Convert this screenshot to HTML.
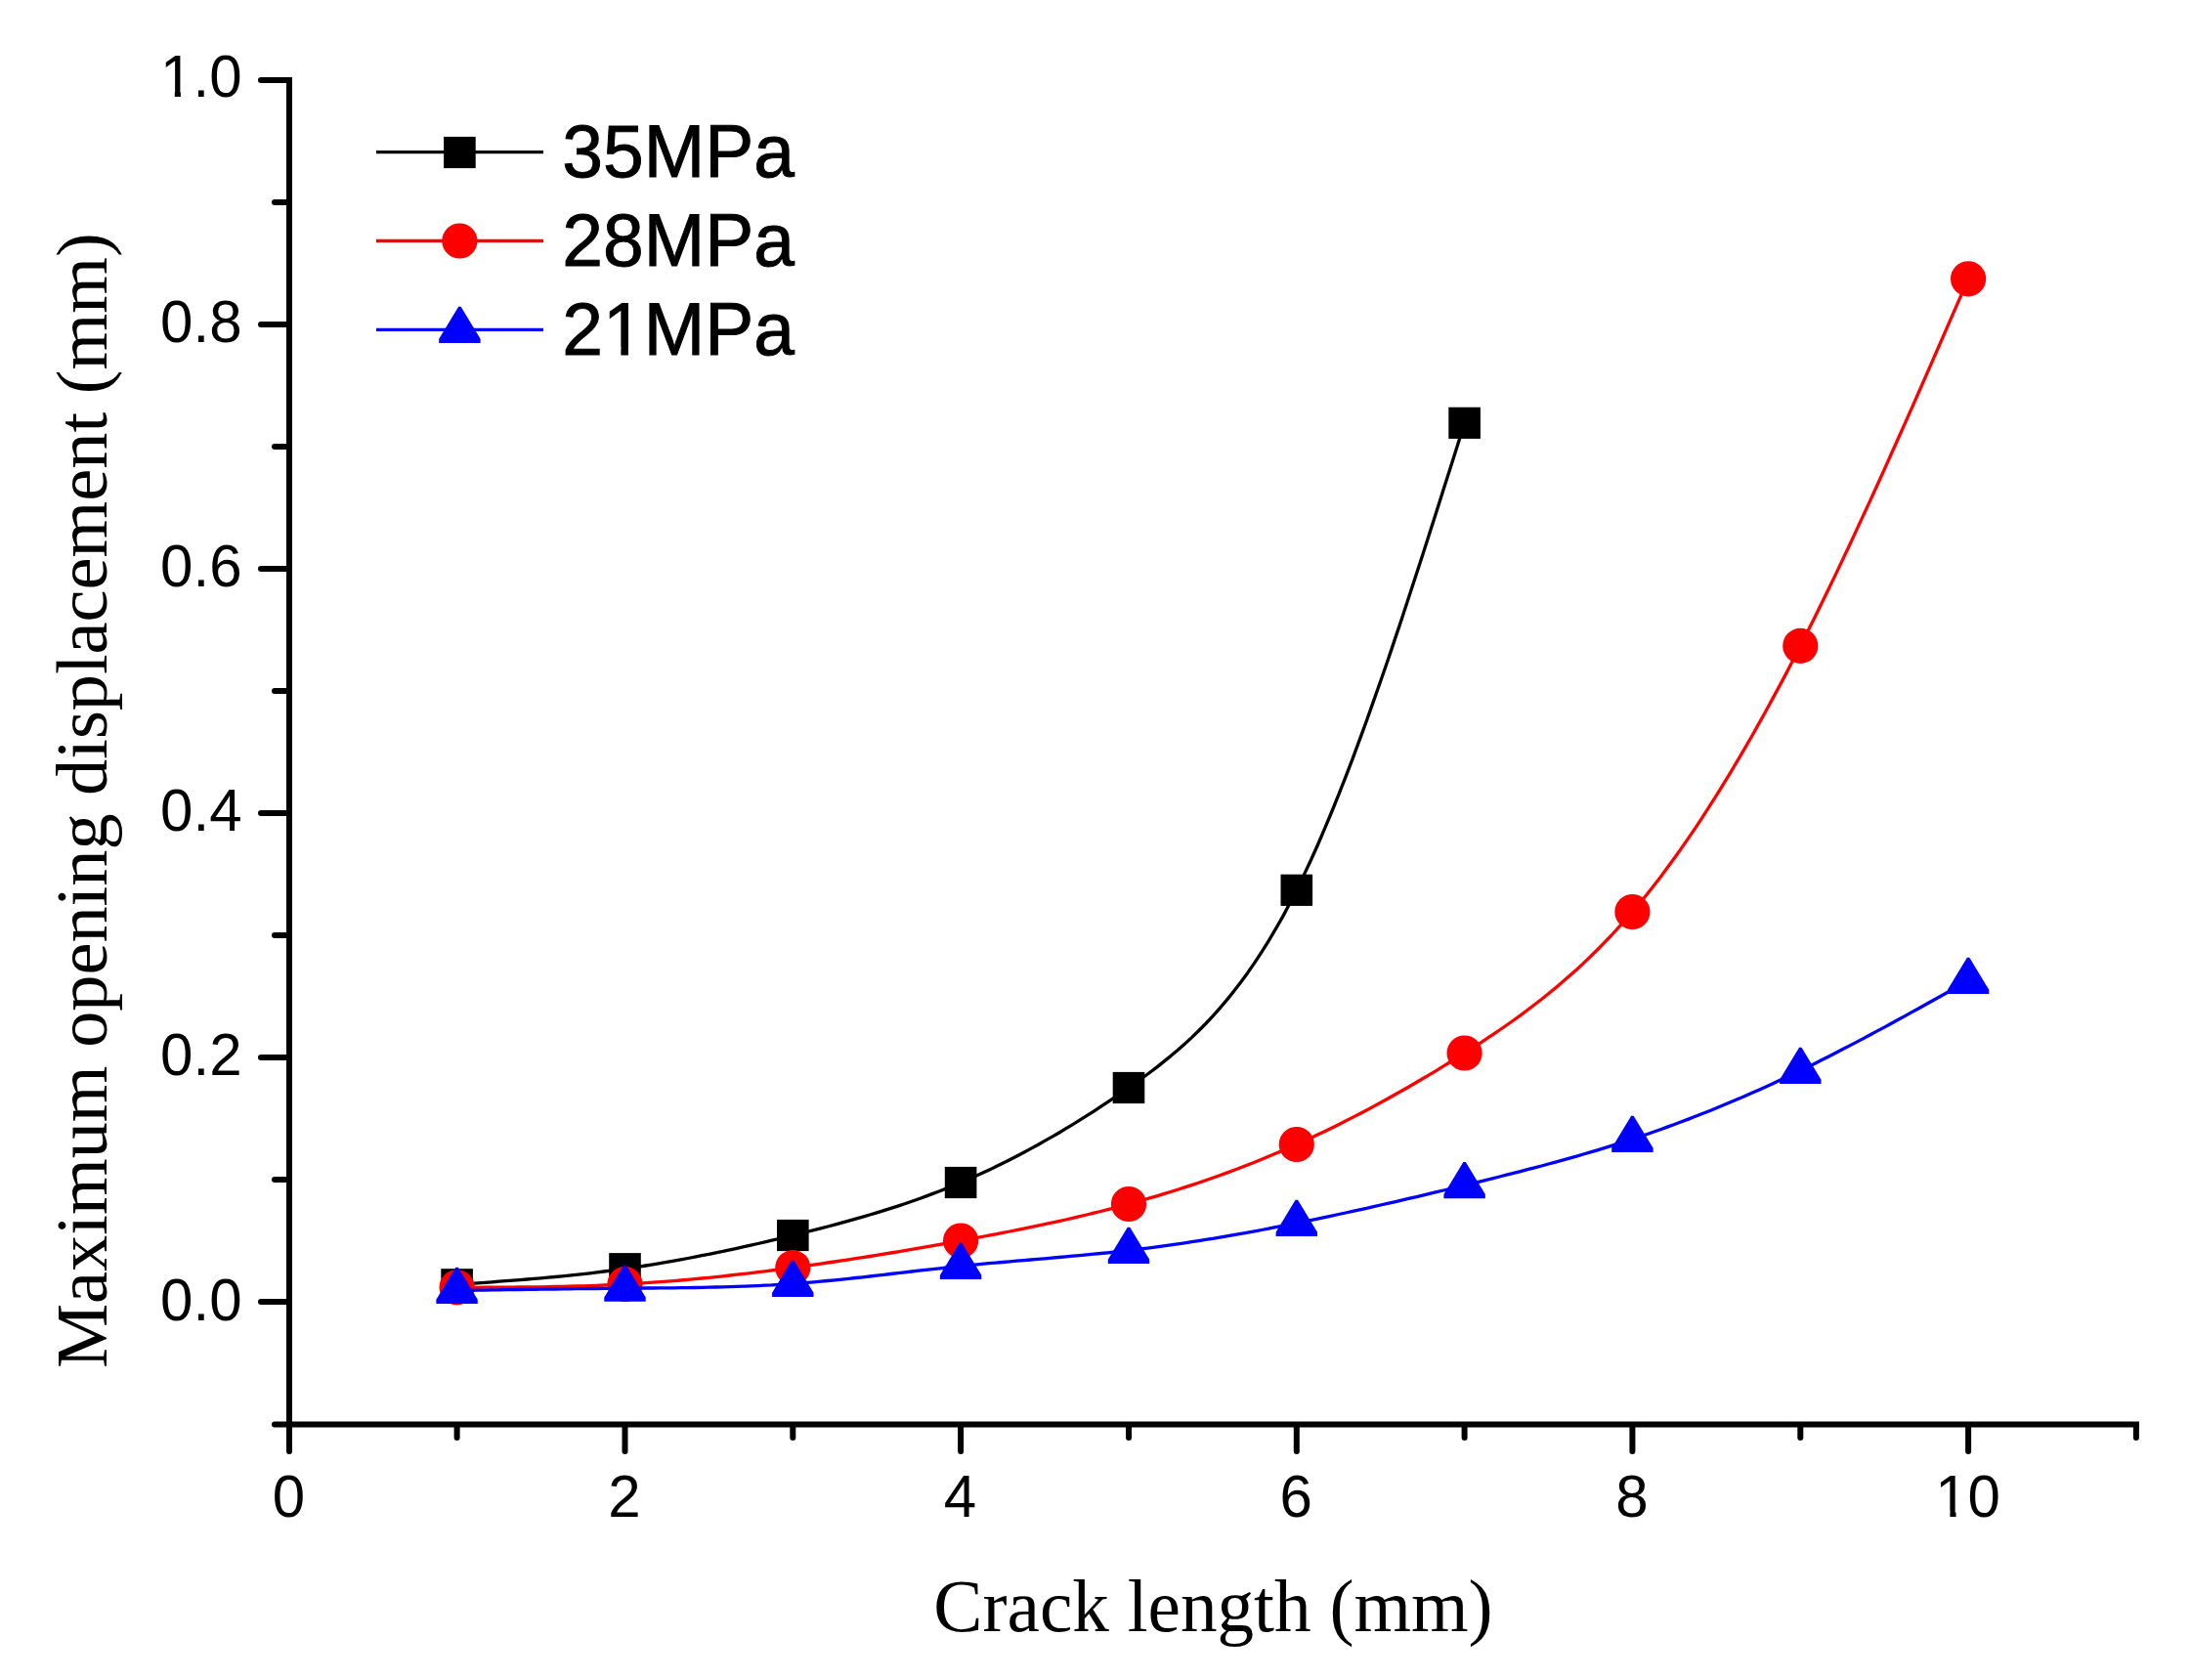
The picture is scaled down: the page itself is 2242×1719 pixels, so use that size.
<!DOCTYPE html><html><head><meta charset="utf-8"><title>Crack length vs maximum opening displacement</title>
<style>html,body{margin:0;padding:0;background:#fff}svg{display:block}text{fill:#000}</style></head><body>
<svg width="2242" height="1719" viewBox="0 0 2242 1719">
<rect width="2242" height="1719" fill="#fff"/>
<g stroke="#000" stroke-width="6" stroke-linecap="butt" fill="none">
<path d="M296.0 79 V1460.5"/>
<path d="M293.0 1457.5 H2189"/>
<path d="M281 1457.5 H295.0" stroke-linecap="round"/>
<path d="M267 1332.0 H295.0" stroke-linecap="round"/>
<path d="M281 1207.0 H295.0" stroke-linecap="round"/>
<path d="M267 1082.0 H295.0" stroke-linecap="round"/>
<path d="M281 957.0 H295.0" stroke-linecap="round"/>
<path d="M267 832.0 H295.0" stroke-linecap="round"/>
<path d="M281 707.0 H295.0" stroke-linecap="round"/>
<path d="M267 582.0 H295.0" stroke-linecap="round"/>
<path d="M281 457.0 H295.0" stroke-linecap="round"/>
<path d="M267 332.0 H295.0" stroke-linecap="round"/>
<path d="M281 207.0 H295.0" stroke-linecap="round"/>
<path d="M267 82.0 H295.0" stroke-linecap="round"/>
<path d="M296.0 1458.5 V1485" stroke-linecap="round"/>
<path d="M467.6 1458.5 V1471" stroke-linecap="round"/>
<path d="M639.5 1458.5 V1485" stroke-linecap="round"/>
<path d="M811.3 1458.5 V1471" stroke-linecap="round"/>
<path d="M983.1 1458.5 V1485" stroke-linecap="round"/>
<path d="M1155.0 1458.5 V1471" stroke-linecap="round"/>
<path d="M1326.8 1458.5 V1485" stroke-linecap="round"/>
<path d="M1498.6 1458.5 V1471" stroke-linecap="round"/>
<path d="M1670.4 1458.5 V1485" stroke-linecap="round"/>
<path d="M1842.3 1458.5 V1471" stroke-linecap="round"/>
<path d="M2014.1 1458.5 V1485" stroke-linecap="round"/>
<path d="M2185.9 1458.5 V1471" stroke-linecap="round"/>
</g>
<g font-family='"Liberation Sans", sans-serif' font-size="60">
<text transform="translate(247.5 1350.7) scale(1 1.026)" text-anchor="end">0.0</text>
<text transform="translate(247.5 1100.4) scale(1 1.026)" text-anchor="end">0.2</text>
<text transform="translate(247.5 850.2) scale(1 1.026)" text-anchor="end">0.4</text>
<text transform="translate(247.5 599.9) scale(1 1.026)" text-anchor="end">0.6</text>
<text transform="translate(247.5 349.7) scale(1 1.026)" text-anchor="end">0.8</text>
<text transform="translate(247.5 99.4) scale(1 1.026)" text-anchor="end">1.0</text>
<text transform="translate(295.4 1551.8) scale(1 1.026)" text-anchor="middle">0</text>
<text transform="translate(638.9 1551.8) scale(1 1.026)" text-anchor="middle">2</text>
<text transform="translate(982.5 1551.8) scale(1 1.026)" text-anchor="middle">4</text>
<text transform="translate(1326.2 1551.8) scale(1 1.026)" text-anchor="middle">6</text>
<text transform="translate(1669.8 1551.8) scale(1 1.026)" text-anchor="middle">8</text>
<text transform="translate(2013.5 1551.8) scale(1 1.026)" text-anchor="middle">10</text>
</g>
<rect x="167.2" y="93.4" width="11.6" height="7.6" fill="#fff"/><rect x="184.9" y="93.4" width="11.1" height="7.6" fill="#fff"/>
<rect x="1983.8" y="1545.7" width="11.6" height="7.6" fill="#fff"/><rect x="2001.5" y="1545.7" width="11.1" height="7.6" fill="#fff"/>
<text font-family='"Liberation Serif", serif' font-size="75.2" transform="translate(1241.4 1669)" text-anchor="middle">Crack length (mm)</text>
<text font-family='"Liberation Serif", serif' font-size="74.3" transform="translate(108.5 819.1) rotate(-90)" text-anchor="middle">Maximum opening displacement (mm)</text>
<path d="M467.6 1314.3 L474.8 1313.8 L481.9 1313.3 L489.1 1312.8 L496.3 1312.3 L503.4 1311.8 L510.6 1311.2 L517.7 1310.7 L524.9 1310.1 L532.1 1309.6 L539.2 1309.0 L546.4 1308.4 L553.5 1307.8 L560.7 1307.1 L567.9 1306.5 L575.0 1305.8 L582.2 1305.1 L589.3 1304.3 L596.5 1303.6 L603.7 1302.8 L610.8 1301.9 L618.0 1301.0 L625.1 1300.1 L632.3 1299.2 L639.5 1298.2 L646.6 1297.2 L653.8 1296.1 L660.9 1295.0 L668.1 1293.8 L675.3 1292.6 L682.4 1291.4 L689.6 1290.1 L696.7 1288.8 L703.9 1287.5 L711.1 1286.1 L718.2 1284.7 L725.4 1283.3 L732.5 1281.8 L739.7 1280.4 L746.9 1278.8 L754.0 1277.3 L761.2 1275.7 L768.3 1274.1 L775.5 1272.5 L782.7 1270.8 L789.8 1269.1 L797.0 1267.5 L804.1 1265.7 L811.3 1264.0 L818.4 1262.2 L825.6 1260.5 L832.8 1258.7 L839.9 1256.8 L847.1 1255.0 L854.2 1253.1 L861.4 1251.1 L868.6 1249.2 L875.7 1247.2 L882.9 1245.1 L890.0 1243.0 L897.2 1240.8 L904.4 1238.6 L911.5 1236.4 L918.7 1234.1 L925.8 1231.7 L933.0 1229.2 L940.2 1226.7 L947.3 1224.1 L954.5 1221.4 L961.6 1218.7 L968.8 1215.9 L976.0 1213.0 L983.1 1210.0 L990.3 1206.9 L997.4 1203.8 L1004.6 1200.5 L1011.8 1197.2 L1018.9 1193.8 L1026.1 1190.3 L1033.2 1186.7 L1040.4 1183.0 L1047.6 1179.2 L1054.7 1175.4 L1061.9 1171.5 L1069.0 1167.4 L1076.2 1163.4 L1083.4 1159.2 L1090.5 1154.9 L1097.7 1150.6 L1104.8 1146.2 L1112.0 1141.7 L1119.2 1137.1 L1126.3 1132.4 L1133.5 1127.7 L1140.6 1122.9 L1147.8 1118.0 L1155.0 1113.0 L1162.1 1107.9 L1169.3 1102.8 L1176.4 1097.5 L1183.6 1092.1 L1190.7 1086.4 L1197.9 1080.6 L1205.1 1074.5 L1212.2 1068.2 L1219.4 1061.6 L1226.5 1054.7 L1233.7 1047.5 L1240.9 1039.8 L1248.0 1031.8 L1255.2 1023.4 L1262.3 1014.6 L1269.5 1005.2 L1276.7 995.4 L1283.8 985.1 L1291.0 974.2 L1298.1 962.8 L1305.3 950.7 L1312.5 938.1 L1319.6 924.8 L1326.8 910.8 L1333.9 896.1 L1341.1 880.8 L1348.3 864.8 L1355.4 848.2 L1362.6 831.0 L1369.7 813.3 L1376.9 795.1 L1384.1 776.3 L1391.2 757.1 L1398.4 737.5 L1405.5 717.4 L1412.7 697.0 L1419.9 676.2 L1427.0 655.1 L1434.2 633.7 L1441.3 612.0 L1448.5 590.1 L1455.7 568.0 L1462.8 545.8 L1470.0 523.3 L1477.1 500.8 L1484.3 478.2 L1491.5 455.5 L1498.6 432.8" fill="none" stroke="#000" stroke-width="3.3" stroke-linejoin="round"/>
<rect x="451.3" y="1298.2" width="32.6" height="32.2" fill="#000"/>
<rect x="623.2" y="1282.1" width="32.6" height="32.2" fill="#000"/>
<rect x="795.0" y="1247.9" width="32.6" height="32.2" fill="#000"/>
<rect x="966.8" y="1193.9" width="32.6" height="32.2" fill="#000"/>
<rect x="1138.7" y="1096.9" width="32.6" height="32.2" fill="#000"/>
<rect x="1310.5" y="894.7" width="32.6" height="32.2" fill="#000"/>
<rect x="1482.3" y="416.7" width="32.6" height="32.2" fill="#000"/>
<path d="M467.6 1317.3 L474.8 1317.3 L481.9 1317.3 L489.1 1317.3 L496.3 1317.2 L503.4 1317.2 L510.6 1317.2 L517.7 1317.1 L524.9 1317.1 L532.1 1317.0 L539.2 1317.0 L546.4 1316.9 L553.5 1316.8 L560.7 1316.7 L567.9 1316.5 L575.0 1316.4 L582.2 1316.2 L589.3 1316.0 L596.5 1315.8 L603.7 1315.6 L610.8 1315.3 L618.0 1315.0 L625.1 1314.7 L632.3 1314.4 L639.5 1314.0 L646.6 1313.6 L653.8 1313.2 L660.9 1312.7 L668.1 1312.2 L675.3 1311.7 L682.4 1311.1 L689.6 1310.6 L696.7 1310.0 L703.9 1309.3 L711.1 1308.7 L718.2 1308.0 L725.4 1307.3 L732.5 1306.6 L739.7 1305.8 L746.9 1305.0 L754.0 1304.2 L761.2 1303.4 L768.3 1302.6 L775.5 1301.7 L782.7 1300.8 L789.8 1299.9 L797.0 1299.0 L804.1 1298.1 L811.3 1297.1 L818.4 1296.1 L825.6 1295.1 L832.8 1294.1 L839.9 1293.1 L847.1 1292.0 L854.2 1291.0 L861.4 1289.9 L868.6 1288.8 L875.7 1287.7 L882.9 1286.6 L890.0 1285.5 L897.2 1284.3 L904.4 1283.1 L911.5 1282.0 L918.7 1280.8 L925.8 1279.6 L933.0 1278.4 L940.2 1277.1 L947.3 1275.9 L954.5 1274.6 L961.6 1273.4 L968.8 1272.1 L976.0 1270.8 L983.1 1269.5 L990.3 1268.2 L997.4 1266.9 L1004.6 1265.5 L1011.8 1264.2 L1018.9 1262.8 L1026.1 1261.4 L1033.2 1260.0 L1040.4 1258.6 L1047.6 1257.2 L1054.7 1255.7 L1061.9 1254.2 L1069.0 1252.7 L1076.2 1251.1 L1083.4 1249.6 L1090.5 1248.0 L1097.7 1246.3 L1104.8 1244.7 L1112.0 1243.0 L1119.2 1241.2 L1126.3 1239.5 L1133.5 1237.7 L1140.6 1235.8 L1147.8 1233.9 L1155.0 1232.0 L1162.1 1230.0 L1169.3 1228.0 L1176.4 1225.9 L1183.6 1223.8 L1190.7 1221.7 L1197.9 1219.5 L1205.1 1217.2 L1212.2 1214.9 L1219.4 1212.6 L1226.5 1210.2 L1233.7 1207.8 L1240.9 1205.3 L1248.0 1202.7 L1255.2 1200.1 L1262.3 1197.5 L1269.5 1194.7 L1276.7 1192.0 L1283.8 1189.2 L1291.0 1186.3 L1298.1 1183.3 L1305.3 1180.3 L1312.5 1177.3 L1319.6 1174.2 L1326.8 1171.0 L1333.9 1167.8 L1341.1 1164.5 L1348.3 1161.1 L1355.4 1157.7 L1362.6 1154.2 L1369.7 1150.7 L1376.9 1147.1 L1384.1 1143.4 L1391.2 1139.7 L1398.4 1136.0 L1405.5 1132.1 L1412.7 1128.3 L1419.9 1124.3 L1427.0 1120.3 L1434.2 1116.3 L1441.3 1112.2 L1448.5 1108.0 L1455.7 1103.8 L1462.8 1099.6 L1470.0 1095.3 L1477.1 1090.9 L1484.3 1086.5 L1491.5 1082.0 L1498.6 1077.5 L1505.8 1072.9 L1512.9 1068.3 L1520.1 1063.6 L1527.2 1058.8 L1534.4 1054.0 L1541.6 1049.0 L1548.7 1044.0 L1555.9 1038.8 L1563.0 1033.5 L1570.2 1028.0 L1577.4 1022.5 L1584.5 1016.7 L1591.7 1010.9 L1598.8 1004.8 L1606.0 998.6 L1613.2 992.2 L1620.3 985.6 L1627.5 978.7 L1634.6 971.7 L1641.8 964.4 L1649.0 957.0 L1656.1 949.2 L1663.3 941.2 L1670.4 933.0 L1677.6 924.5 L1684.8 915.7 L1691.9 906.7 L1699.1 897.4 L1706.2 887.8 L1713.4 878.0 L1720.6 867.9 L1727.7 857.6 L1734.9 847.1 L1742.0 836.3 L1749.2 825.2 L1756.4 813.9 L1763.5 802.4 L1770.7 790.6 L1777.8 778.7 L1785.0 766.4 L1792.2 754.0 L1799.3 741.4 L1806.5 728.5 L1813.6 715.4 L1820.8 702.1 L1828.0 688.6 L1835.1 674.8 L1842.3 660.9 L1849.4 646.8 L1856.6 632.4 L1863.7 617.9 L1870.9 603.2 L1878.1 588.4 L1885.2 573.4 L1892.4 558.2 L1899.5 542.9 L1906.7 527.4 L1913.9 511.9 L1921.0 496.2 L1928.2 480.4 L1935.3 464.5 L1942.5 448.5 L1949.7 432.4 L1956.8 416.3 L1964.0 400.0 L1971.1 383.8 L1978.3 367.4 L1985.5 351.0 L1992.6 334.6 L1999.8 318.2 L2006.9 301.8 L2014.1 285.3" fill="none" stroke="#f00" stroke-width="3.3" stroke-linejoin="round"/>
<circle cx="467.6" cy="1317.3" r="18.1" fill="#f00"/>
<circle cx="639.5" cy="1314.0" r="18.1" fill="#f00"/>
<circle cx="811.3" cy="1297.1" r="18.1" fill="#f00"/>
<circle cx="983.1" cy="1269.5" r="18.1" fill="#f00"/>
<circle cx="1155.0" cy="1232.0" r="18.1" fill="#f00"/>
<circle cx="1326.8" cy="1171.0" r="18.1" fill="#f00"/>
<circle cx="1498.6" cy="1077.5" r="18.1" fill="#f00"/>
<circle cx="1670.4" cy="933.0" r="18.1" fill="#f00"/>
<circle cx="1842.3" cy="660.9" r="18.1" fill="#f00"/>
<circle cx="2014.1" cy="285.3" r="18.1" fill="#f00"/>
<path d="M467.6 1320.5 L474.8 1320.4 L481.9 1320.3 L489.1 1320.2 L496.3 1320.1 L503.4 1319.9 L510.6 1319.8 L517.7 1319.7 L524.9 1319.6 L532.1 1319.5 L539.2 1319.4 L546.4 1319.3 L553.5 1319.2 L560.7 1319.1 L567.9 1319.0 L575.0 1318.9 L582.2 1318.8 L589.3 1318.7 L596.5 1318.6 L603.7 1318.6 L610.8 1318.5 L618.0 1318.4 L625.1 1318.3 L632.3 1318.3 L639.5 1318.2 L646.6 1318.1 L653.8 1318.1 L660.9 1318.0 L668.1 1318.0 L675.3 1317.9 L682.4 1317.8 L689.6 1317.8 L696.7 1317.7 L703.9 1317.6 L711.1 1317.5 L718.2 1317.3 L725.4 1317.2 L732.5 1317.0 L739.7 1316.9 L746.9 1316.7 L754.0 1316.4 L761.2 1316.2 L768.3 1315.9 L775.5 1315.6 L782.7 1315.2 L789.8 1314.9 L797.0 1314.4 L804.1 1314.0 L811.3 1313.5 L818.4 1313.0 L825.6 1312.4 L832.8 1311.8 L839.9 1311.2 L847.1 1310.5 L854.2 1309.8 L861.4 1309.1 L868.6 1308.3 L875.7 1307.5 L882.9 1306.8 L890.0 1306.0 L897.2 1305.2 L904.4 1304.3 L911.5 1303.5 L918.7 1302.7 L925.8 1301.9 L933.0 1301.0 L940.2 1300.2 L947.3 1299.4 L954.5 1298.6 L961.6 1297.8 L968.8 1297.0 L976.0 1296.2 L983.1 1295.5 L990.3 1294.8 L997.4 1294.1 L1004.6 1293.4 L1011.8 1292.7 L1018.9 1292.1 L1026.1 1291.5 L1033.2 1290.8 L1040.4 1290.2 L1047.6 1289.6 L1054.7 1289.0 L1061.9 1288.4 L1069.0 1287.8 L1076.2 1287.1 L1083.4 1286.5 L1090.5 1285.9 L1097.7 1285.2 L1104.8 1284.6 L1112.0 1283.9 L1119.2 1283.2 L1126.3 1282.5 L1133.5 1281.8 L1140.6 1281.0 L1147.8 1280.2 L1155.0 1279.4 L1162.1 1278.6 L1169.3 1277.7 L1176.4 1276.8 L1183.6 1275.8 L1190.7 1274.8 L1197.9 1273.8 L1205.1 1272.8 L1212.2 1271.8 L1219.4 1270.7 L1226.5 1269.6 L1233.7 1268.4 L1240.9 1267.3 L1248.0 1266.1 L1255.2 1264.9 L1262.3 1263.6 L1269.5 1262.4 L1276.7 1261.1 L1283.8 1259.8 L1291.0 1258.5 L1298.1 1257.1 L1305.3 1255.7 L1312.5 1254.3 L1319.6 1252.9 L1326.8 1251.5 L1333.9 1250.1 L1341.1 1248.6 L1348.3 1247.1 L1355.4 1245.6 L1362.6 1244.1 L1369.7 1242.5 L1376.9 1241.0 L1384.1 1239.4 L1391.2 1237.9 L1398.4 1236.3 L1405.5 1234.7 L1412.7 1233.0 L1419.9 1231.4 L1427.0 1229.8 L1434.2 1228.1 L1441.3 1226.4 L1448.5 1224.8 L1455.7 1223.1 L1462.8 1221.4 L1470.0 1219.7 L1477.1 1218.0 L1484.3 1216.3 L1491.5 1214.5 L1498.6 1212.8 L1505.8 1211.1 L1512.9 1209.3 L1520.1 1207.6 L1527.2 1205.8 L1534.4 1204.0 L1541.6 1202.2 L1548.7 1200.4 L1555.9 1198.6 L1563.0 1196.7 L1570.2 1194.9 L1577.4 1193.0 L1584.5 1191.0 L1591.7 1189.1 L1598.8 1187.1 L1606.0 1185.1 L1613.2 1183.1 L1620.3 1181.0 L1627.5 1178.9 L1634.6 1176.8 L1641.8 1174.6 L1649.0 1172.4 L1656.1 1170.1 L1663.3 1167.8 L1670.4 1165.5 L1677.6 1163.1 L1684.8 1160.7 L1691.9 1158.2 L1699.1 1155.7 L1706.2 1153.1 L1713.4 1150.5 L1720.6 1147.8 L1727.7 1145.1 L1734.9 1142.3 L1742.0 1139.5 L1749.2 1136.7 L1756.4 1133.8 L1763.5 1130.8 L1770.7 1127.8 L1777.8 1124.8 L1785.0 1121.7 L1792.2 1118.6 L1799.3 1115.4 L1806.5 1112.2 L1813.6 1108.9 L1820.8 1105.6 L1828.0 1102.2 L1835.1 1098.8 L1842.3 1095.4 L1849.4 1091.9 L1856.6 1088.4 L1863.7 1084.8 L1870.9 1081.2 L1878.1 1077.5 L1885.2 1073.8 L1892.4 1070.1 L1899.5 1066.4 L1906.7 1062.6 L1913.9 1058.8 L1921.0 1054.9 L1928.2 1051.1 L1935.3 1047.2 L1942.5 1043.3 L1949.7 1039.4 L1956.8 1035.4 L1964.0 1031.5 L1971.1 1027.5 L1978.3 1023.5 L1985.5 1019.5 L1992.6 1015.5 L1999.8 1011.5 L2006.9 1007.5 L2014.1 1003.5" fill="none" stroke="#00f" stroke-width="3.3" stroke-linejoin="round"/>
<path d="M466.4 1296.8 H468.8 L488.8 1329.8 V1334.0 H446.4 V1329.8 Z" fill="#00f"/>
<path d="M638.3 1294.5 H640.7 L660.7 1327.5 V1331.7 H618.3 V1327.5 Z" fill="#00f"/>
<path d="M810.1 1289.8 H812.5 L832.5 1322.8 V1327.0 H790.1 V1322.8 Z" fill="#00f"/>
<path d="M981.9 1271.8 H984.3 L1004.3 1304.8 V1309.0 H961.9 V1304.8 Z" fill="#00f"/>
<path d="M1153.8 1255.7 H1156.2 L1176.2 1288.7 V1292.9 H1133.8 V1288.7 Z" fill="#00f"/>
<path d="M1325.6 1227.8 H1328.0 L1348.0 1260.8 V1265.0 H1305.6 V1260.8 Z" fill="#00f"/>
<path d="M1497.4 1189.1 H1499.8 L1519.8 1222.1 V1226.3 H1477.4 V1222.1 Z" fill="#00f"/>
<path d="M1669.2 1141.8 H1671.6 L1691.6 1174.8 V1179.0 H1649.2 V1174.8 Z" fill="#00f"/>
<path d="M1841.1 1071.7 H1843.5 L1863.5 1104.7 V1108.9 H1821.1 V1104.7 Z" fill="#00f"/>
<path d="M2012.9 979.8 H2015.3 L2035.3 1012.8 V1017.0 H1992.9 V1012.8 Z" fill="#00f"/>
<g font-family='"Liberation Sans", sans-serif' font-size="75">
<path d="M385 155.6 H556" stroke="#000" stroke-width="3.3" fill="none"/>
<rect x="454.1" y="139.9" width="32.6" height="32.2" fill="#000"/>
<text transform="translate(575.3 180.9) scale(1 1.012)" stroke="#000" stroke-width="0.9">35MPa</text>
<path d="M385 246.5 H556" stroke="#f00" stroke-width="3.3" fill="none"/>
<circle cx="470.4" cy="246.5" r="18.1" fill="#f00"/>
<text transform="translate(575.3 271.8) scale(1 1.012)" stroke="#000" stroke-width="0.9">28MPa</text>
<path d="M385 337.4 H556" stroke="#00f" stroke-width="3.3" fill="none"/>
<path d="M469.2 313.7 H471.6 L491.6 346.7 V350.9 H449.2 V346.7 Z" fill="#00f"/>
<text transform="translate(575.3 362.7) scale(1 1.012)" stroke="#000" stroke-width="0.9">21MPa</text>
</g>
<rect x="620.7" y="355.0" width="14.7" height="9.7" fill="#fff"/><rect x="642.9" y="355.0" width="14.2" height="9.7" fill="#fff"/>
</svg></body></html>
